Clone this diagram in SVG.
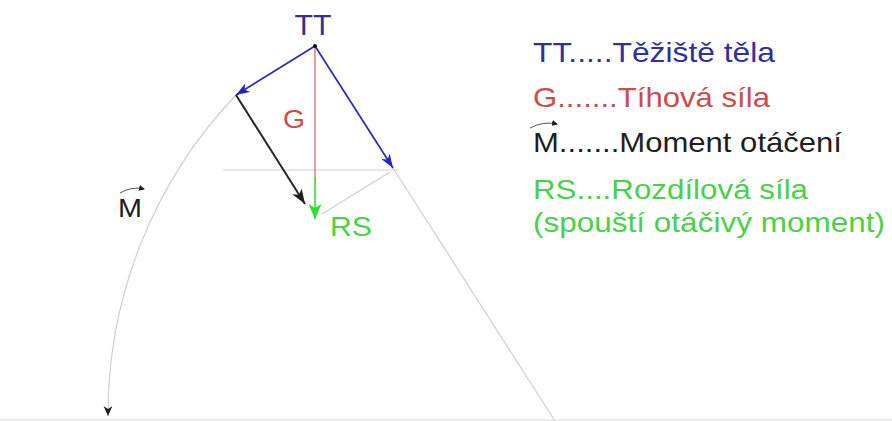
<svg xmlns="http://www.w3.org/2000/svg" width="892" height="421" viewBox="0 0 892 421">
<defs>
<style>
text{font-family:"Liberation Sans",Arial,sans-serif}
.blue{fill:#30309c}
.red{fill:#cc4c4c}
.blk{fill:#1e1e1e}
.grn{fill:#4ccf4c}
.guide{stroke:#cfcfcf;stroke-width:1.2;fill:none}
</style>
<marker id="mBlue" viewBox="0 0 14 10" refX="14" refY="5" markerWidth="14" markerHeight="10" orient="auto" markerUnits="userSpaceOnUse"><path d="M0,0 L14,5 L0,10 L4,5 z" fill="#2424c0"/></marker>
<marker id="mBlack" viewBox="0 0 15 11" refX="15" refY="5.5" markerWidth="15" markerHeight="11" orient="auto" markerUnits="userSpaceOnUse"><path d="M0,0 L15,5.5 L0,11 L4,5.5 z" fill="#1e1e1e"/></marker>
<marker id="mGreen" viewBox="0 0 15 13" refX="15" refY="6.5" markerWidth="15" markerHeight="13" orient="auto" markerUnits="userSpaceOnUse"><path d="M0,0 L15,6.5 L0,13 L4,6.5 z" fill="#2ee02e"/></marker>
<marker id="mSmall" viewBox="0 0 10 9" refX="10" refY="4.5" markerWidth="10" markerHeight="9" orient="auto" markerUnits="userSpaceOnUse"><path d="M0,0 L10,4.5 L0,9 L3,4.5 z" fill="#1e1e1e"/></marker>
<marker id="mTiny" viewBox="0 0 6 6" refX="5" refY="3" markerWidth="6" markerHeight="6" orient="auto" markerUnits="userSpaceOnUse"><path d="M0,0 L6,3 L0,6 z" fill="#1e1e1e"/></marker>
</defs>
<rect width="892" height="421" fill="#ffffff"/>
<rect x="0" y="419" width="892" height="2" fill="#ededed"/>

<g id="connectors">
  <line class="guide" x1="223" y1="170" x2="398" y2="170"/>
  <line class="guide" x1="390" y1="172" x2="322" y2="214"/>
  <line class="guide" x1="393" y1="168" x2="555" y2="421"/>
  <path class="guide" d="M236,95 A464,464 0 0 0 108,416" marker-end="url(#mSmall)" stroke="#c8c8c8"/>
  <line x1="315" y1="46" x2="315" y2="180" stroke="#c87070" stroke-width="1.3"/>
  <line x1="315" y1="178" x2="315" y2="219" stroke="#3ad83a" stroke-width="1.6" marker-end="url(#mGreen)"/>
  <line x1="315" y1="46" x2="236" y2="95" stroke="#2a2ab8" stroke-width="1.7" marker-end="url(#mBlue)"/>
  <line x1="315" y1="46" x2="393" y2="168" stroke="#2a2ab8" stroke-width="1.7" marker-end="url(#mBlue)"/>
  <line x1="236" y1="95" x2="305" y2="204" stroke="#262626" stroke-width="2" marker-end="url(#mBlack)"/>
  <circle cx="315" cy="46" r="2" fill="#111"/>
</g>

<g id="label-TT"><text x="313" y="35" font-size="30" text-anchor="middle" class="blue" textLength="37" lengthAdjust="spacingAndGlyphs">TT</text></g>
<g id="label-G"><text x="294" y="128" font-size="25" text-anchor="middle" class="red" textLength="22" lengthAdjust="spacingAndGlyphs">G</text></g>
<g id="label-RS"><text x="330" y="236" font-size="27" class="grn" textLength="42" lengthAdjust="spacingAndGlyphs">RS</text></g>
<g id="label-M">
  <text x="118" y="217" font-size="26" class="blk" textLength="24" lengthAdjust="spacingAndGlyphs">M</text>
  <path d="M120,193 Q132,186 144,189" stroke="#555" stroke-width="1" fill="none" marker-end="url(#mTiny)"/>
</g>

<g id="legend">
  <g id="legend-TT"><text x="533" y="62" font-size="28" class="blue" textLength="242" lengthAdjust="spacingAndGlyphs">TT.....Těžiště těla</text></g>
  <g id="legend-G"><text x="533" y="107" font-size="28" class="red" textLength="237" lengthAdjust="spacingAndGlyphs">G.......Tíhová síla</text></g>
  <g id="legend-M">
    <text x="533" y="152" font-size="28" class="blk" textLength="309" lengthAdjust="spacingAndGlyphs">M.......Moment otáčení</text>
    <path d="M530,128 Q543,121 557,124" stroke="#555" stroke-width="1" fill="none" marker-end="url(#mTiny)"/>
  </g>
  <g id="legend-RS">
    <text x="533" y="199" font-size="28" class="grn" textLength="275" lengthAdjust="spacingAndGlyphs">RS....Rozdílová síla</text>
    <text x="533" y="232" font-size="28" class="grn" textLength="352" lengthAdjust="spacingAndGlyphs">(spouští otáčivý moment)</text>
  </g>
</g>
</svg>
